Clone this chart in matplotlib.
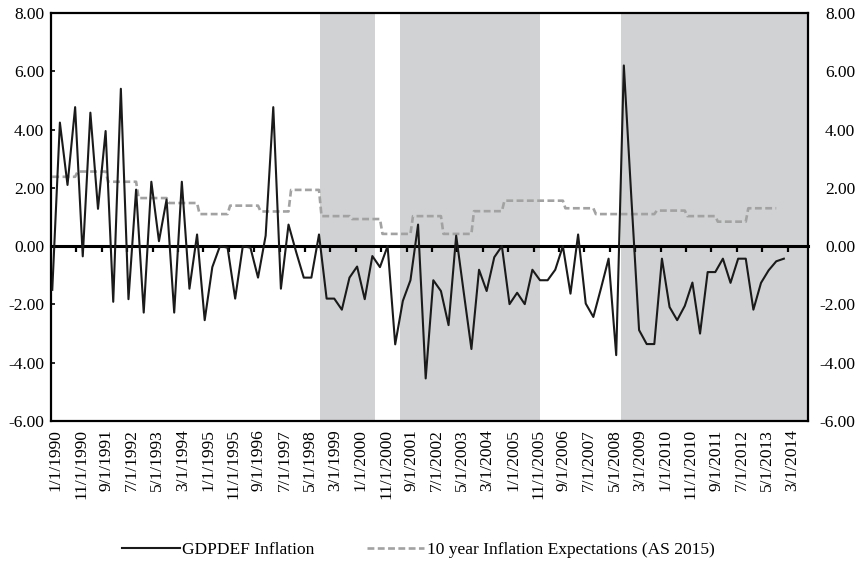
import numpy as np
import matplotlib
matplotlib.use('Agg')
import matplotlib.pyplot as plt
import matplotlib.transforms as mtransforms

plt.rcParams['font.family'] = ['Liberation Serif', 'DejaVu Serif']

# GDP deflator inflation, quarterly points (month index from Jan 1990)
gdp_months = list(range(0, 289, 3))
gdp_infl = [-1.5, 4.24, 2.1, 4.77, -0.35, 4.58, 1.28, 3.95, -1.91, 5.4,
            -1.82, 1.94, -2.28, 2.21, 0.17, 1.6, -2.28, 2.21, -1.46, 0.4,
            -2.54, -0.72, 0.0, -0.05, -1.8, 0.0, -0.05, -1.08, 0.36, 4.77,
            -1.46, 0.74, -0.2, -1.08, -1.08, 0.4, -1.8, -1.8, -2.18, -1.08,
            -0.7, -1.82, -0.34, -0.72, 0.0, -3.37, -1.88, -1.17, 0.74, -4.54,
            -1.17, -1.54, -2.71, 0.36, -1.6, -3.53, -0.81, -1.54, -0.38, 0.0,
            -1.99, -1.6, -1.99, -0.81, -1.17, -1.17, -0.81, 0.0, -1.63, 0.4,
            -1.97, -2.43, -1.45, -0.43, -3.74, 6.2, 1.6, -2.88, -3.36, -3.36,
            -0.43, -2.09, -2.54, -2.05, -1.25, -3.0, -0.89, -0.89, -0.43, -1.26,
            -0.43, -0.43, -2.18, -1.26, -0.83, -0.52, -0.43]

# 10 year inflation expectations, one value per survey year, months each value holds
exp_values = [2.38, 2.56, 2.21, 1.65, 1.48, 1.1, 1.39, 1.19, 1.93, 1.03,
              0.93, 0.42, 1.03, 0.42, 1.2, 1.56, 1.56, 1.3, 1.1, 1.1,
              1.22, 1.03, 0.84, 1.3]
exp_months_held = [10] + [12] * 23

# shaded periods (month index)
shade_periods = [(105.2, 127.2), (136.7, 192.1), (224.0, 297.5)]

# x tick labels every 10 months
tick_labels = ['1/1/1990', '11/1/1990', '9/1/1991', '7/1/1992', '5/1/1993',
               '3/1/1994', '1/1/1995', '11/1/1995', '9/1/1996', '7/1/1997',
               '5/1/1998', '3/1/1999', '1/1/2000', '11/1/2000', '9/1/2001',
               '7/1/2002', '5/1/2003', '3/1/2004', '1/1/2005', '11/1/2005',
               '9/1/2006', '7/1/2007', '5/1/2008', '3/1/2009', '1/1/2010',
               '11/1/2010', '9/1/2011', '7/1/2012', '5/1/2013', '3/1/2014']
tick_months = list(range(0, 300, 10))

exp_series = np.repeat(exp_values, exp_months_held)
exp_x = np.arange(len(exp_series))

fig = plt.figure(figsize=(8.59, 5.76), dpi=100)
ax = fig.add_axes([51 / 859, 1 - 421 / 576, 757 / 859, 408 / 576])

for start, end in shade_periods:
    ax.axvspan(start, end, color='#d1d2d4', lw=0, zorder=0)

l1, = ax.plot(gdp_months, gdp_infl, color='#1a1a1a', lw=1.5, zorder=3,
              label='GDPDEF Inflation')
l2, = ax.plot(exp_x, exp_series, color='#a2a2a2', lw=1.9, dashes=(2.6, 1.3),
              zorder=2, label='10 year Inflation Expectations (AS 2015)')

ax.set_xlim(-0.5, 297.5)
ax.set_ylim(-6, 8)
yt = np.arange(-6, 9, 2)
ax.set_yticks(yt)
ax.set_yticklabels(['%.2f' % v for v in yt])
ax.tick_params(axis='y', direction='in', length=3, width=1.2, pad=5, labelsize=12.5)

ax.set_xticks(tick_months)
ax.set_xticklabels(tick_labels, rotation=90, fontsize=12.5)
ax.tick_params(axis='x', length=0, pad=6)
offset = mtransforms.ScaledTranslation(3.5 / 100, 0, fig.dpi_scale_trans)
for lab in ax.get_xticklabels():
    lab.set_transform(lab.get_transform() + offset)

for sp in ax.spines.values():
    sp.set_linewidth(1.6)

# right-hand axis with same scale
ax2 = ax.twinx()
ax2.set_ylim(-6, 8)
ax2.set_yticks(yt)
ax2.set_yticklabels(['%.2f' % v for v in yt], ha='right')
ax2.tick_params(axis='y', length=0, pad=34, labelsize=12.5)
for sp in ax2.spines.values():
    sp.set_visible(False)

# horizontal axis line at zero with tick marks
sec = ax.secondary_xaxis(6 / 14)
sec.set_xticks(np.arange(9.5, 290, 10))
sec.tick_params(axis='x', direction='out', length=4, width=1.6, labelbottom=False)
sec.spines['bottom'].set_linewidth(2.2)

fig.legend(handles=[l1, l2], loc='center', bbox_to_anchor=(0.487, 0.045), ncol=2,
           frameon=False, fontsize=12.5, handlelength=3.3, handletextpad=0.15,
           columnspacing=3.0)

fig.savefig('out.png', dpi=100)
